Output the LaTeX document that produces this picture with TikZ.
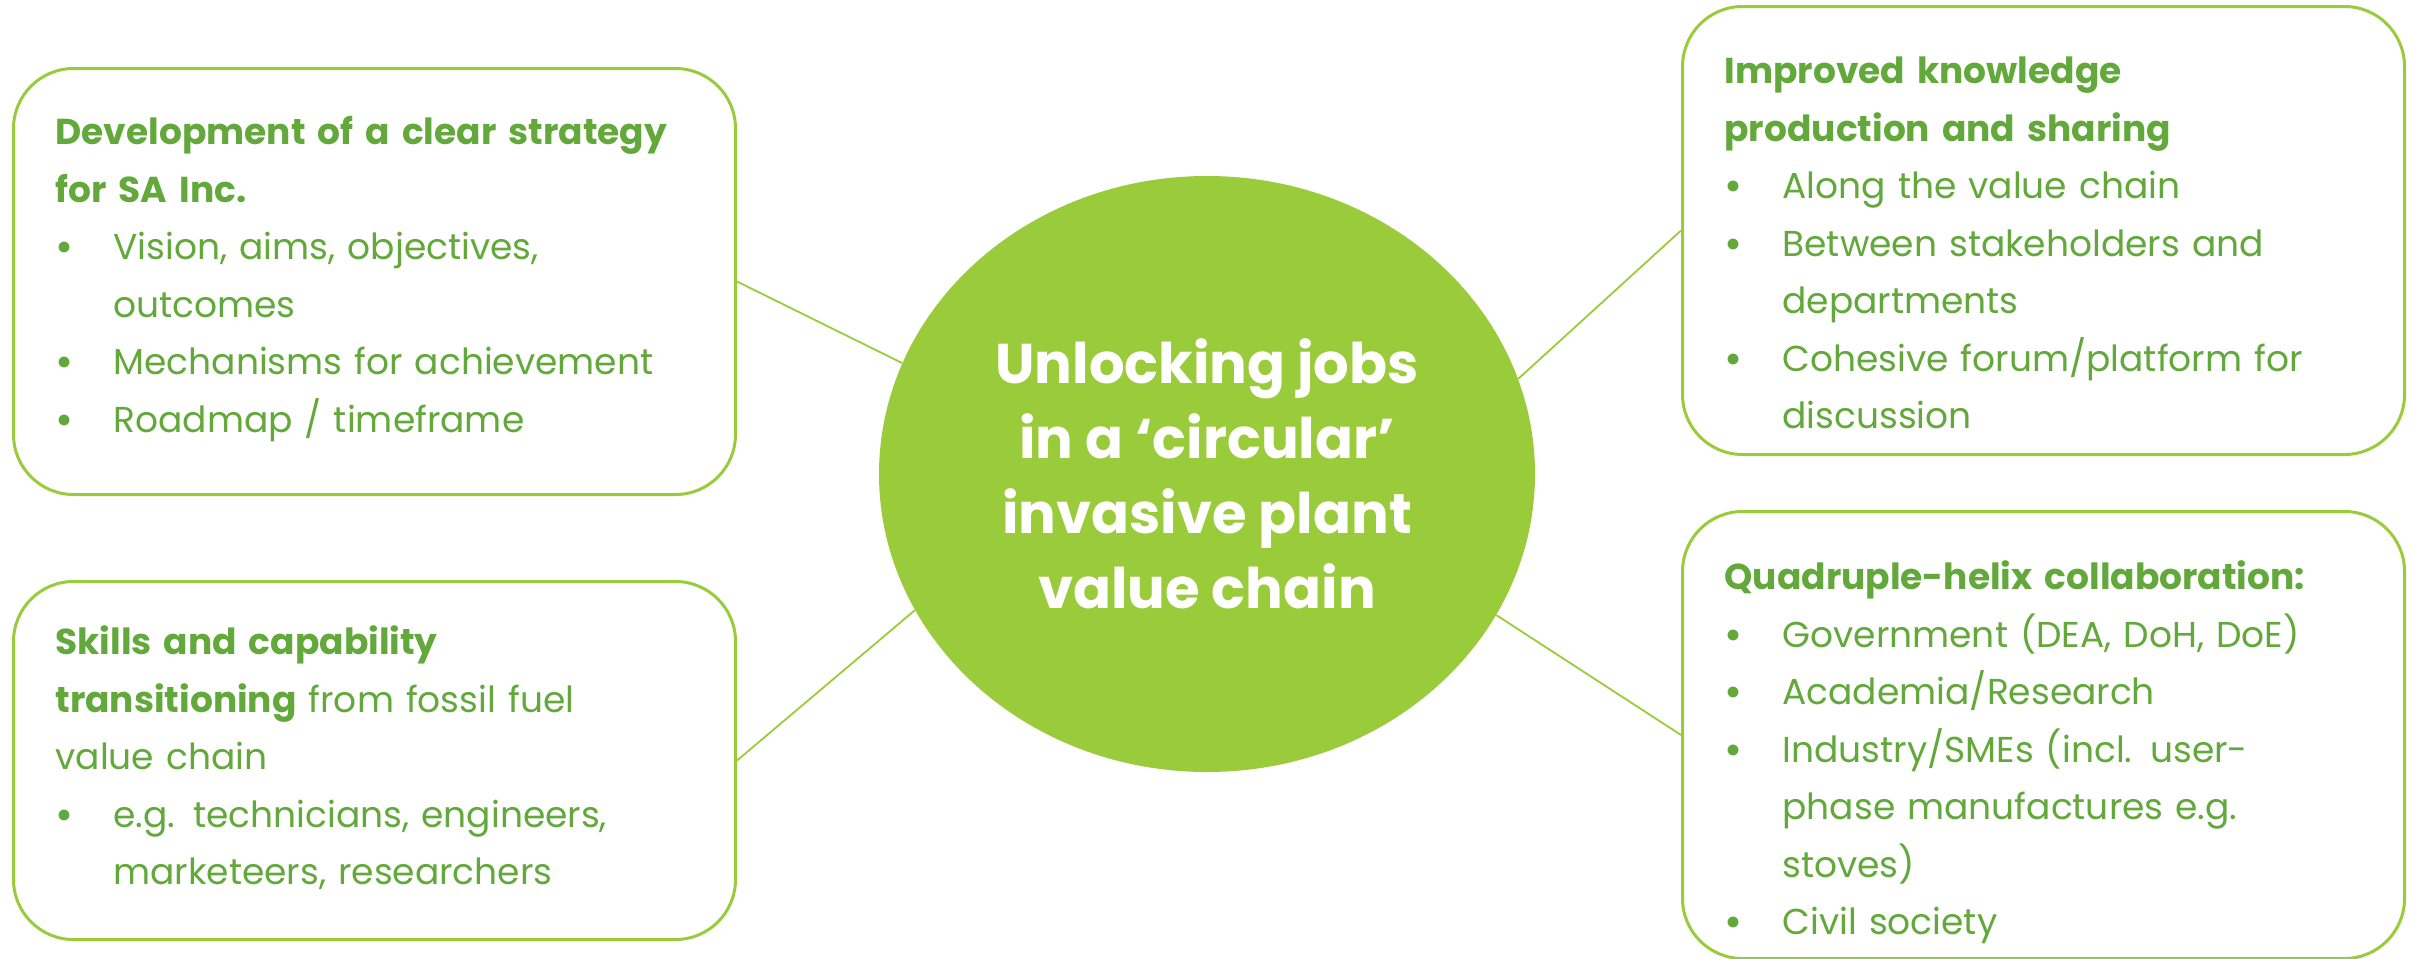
\documentclass[tikz,border=0pt]{standalone}
\usepackage{fontspec}
\setmainfont{Poppins}
\usetikzlibrary{shapes.geometric}
\definecolor{leaf}{RGB}{154,203,58}
\definecolor{moss}{RGB}{98,168,58}
\newcommand{\itm}{\makebox[29pt][l]{\textbf{\textbullet}}}
\newcommand{\cont}{\hspace*{29pt}}

\begin{document}
\begin{tikzpicture}[x=0.5pt, y=-0.5pt]
  \tikzstyle{hub} = [ellipse, fill=leaf, inner sep=0pt, minimum width=328pt, minimum height=298pt, text=white, align=center, font=\bfseries\fontsize{28pt}{37.5pt}\selectfont]
  \tikzstyle{theme} = [draw=leaf, line width=1.5pt, rounded corners=30pt, anchor=north west, inner xsep=21pt, inner ysep=0pt, text width=319pt, align=left, text=moss, font=\fontsize{18pt}{28.75pt}\selectfont]
  \tikzstyle{link} = [draw=leaf, line width=0.9pt]
  \useasboundingbox (0,0) rectangle (2412,958);

  \node [hub] (jobs) at (1207,474) {Unlocking jobs\\in a ‘circular’\\invasive plant\\value chain};

  \node [theme, text height=38pt, text depth=175pt] (strategy) at (12,67)
    {\textbf{Development of a clear strategy}\\\textbf{for SA Inc.}\\
     \itm Vision, aims, objectives,\\\cont outcomes\\
     \itm Mechanisms for achievement\\
     \itm Roadmap / timeframe};
  \node [theme, text height=36.5pt, text depth=142.5pt] (skills) at (12,580)
    {\textbf{Skills and capability}\\\textbf{transitioning} from fossil fuel\\value chain\\
     \itm e.g. technicians, engineers,\\\cont marketeers, researchers};
  \node [theme, text height=38.5pt, text depth=185.5pt] (knowledge) at (1681,5)
    {\textbf{Improved knowledge}\\\textbf{production and sharing}\\
     \itm Along the value chain\\
     \itm Between stakeholders and\\\cont departments\\
     \itm Cohesive forum/platform for\\\cont discussion};
  \node [theme, text height=39pt, text depth=184.5pt] (helix) at (1681,510)
    {\textbf{Quadruple-helix collaboration:}\\
     \itm Government (DEA, DoH, DoE)\\
     \itm Academia/Research\\
     \itm Industry/SMEs (incl. user-\\\cont phase manufactures e.g.\\\cont stoves)\\
     \itm Civil society};

  \draw [link] (strategy.east) -- (jobs.160);
  \draw [link] (skills.east) -- (jobs.205);
  \draw [link] (knowledge.west) -- (jobs.17);
  \draw [link] (helix.west) -- (jobs.334);
\end{tikzpicture}
\end{document}
